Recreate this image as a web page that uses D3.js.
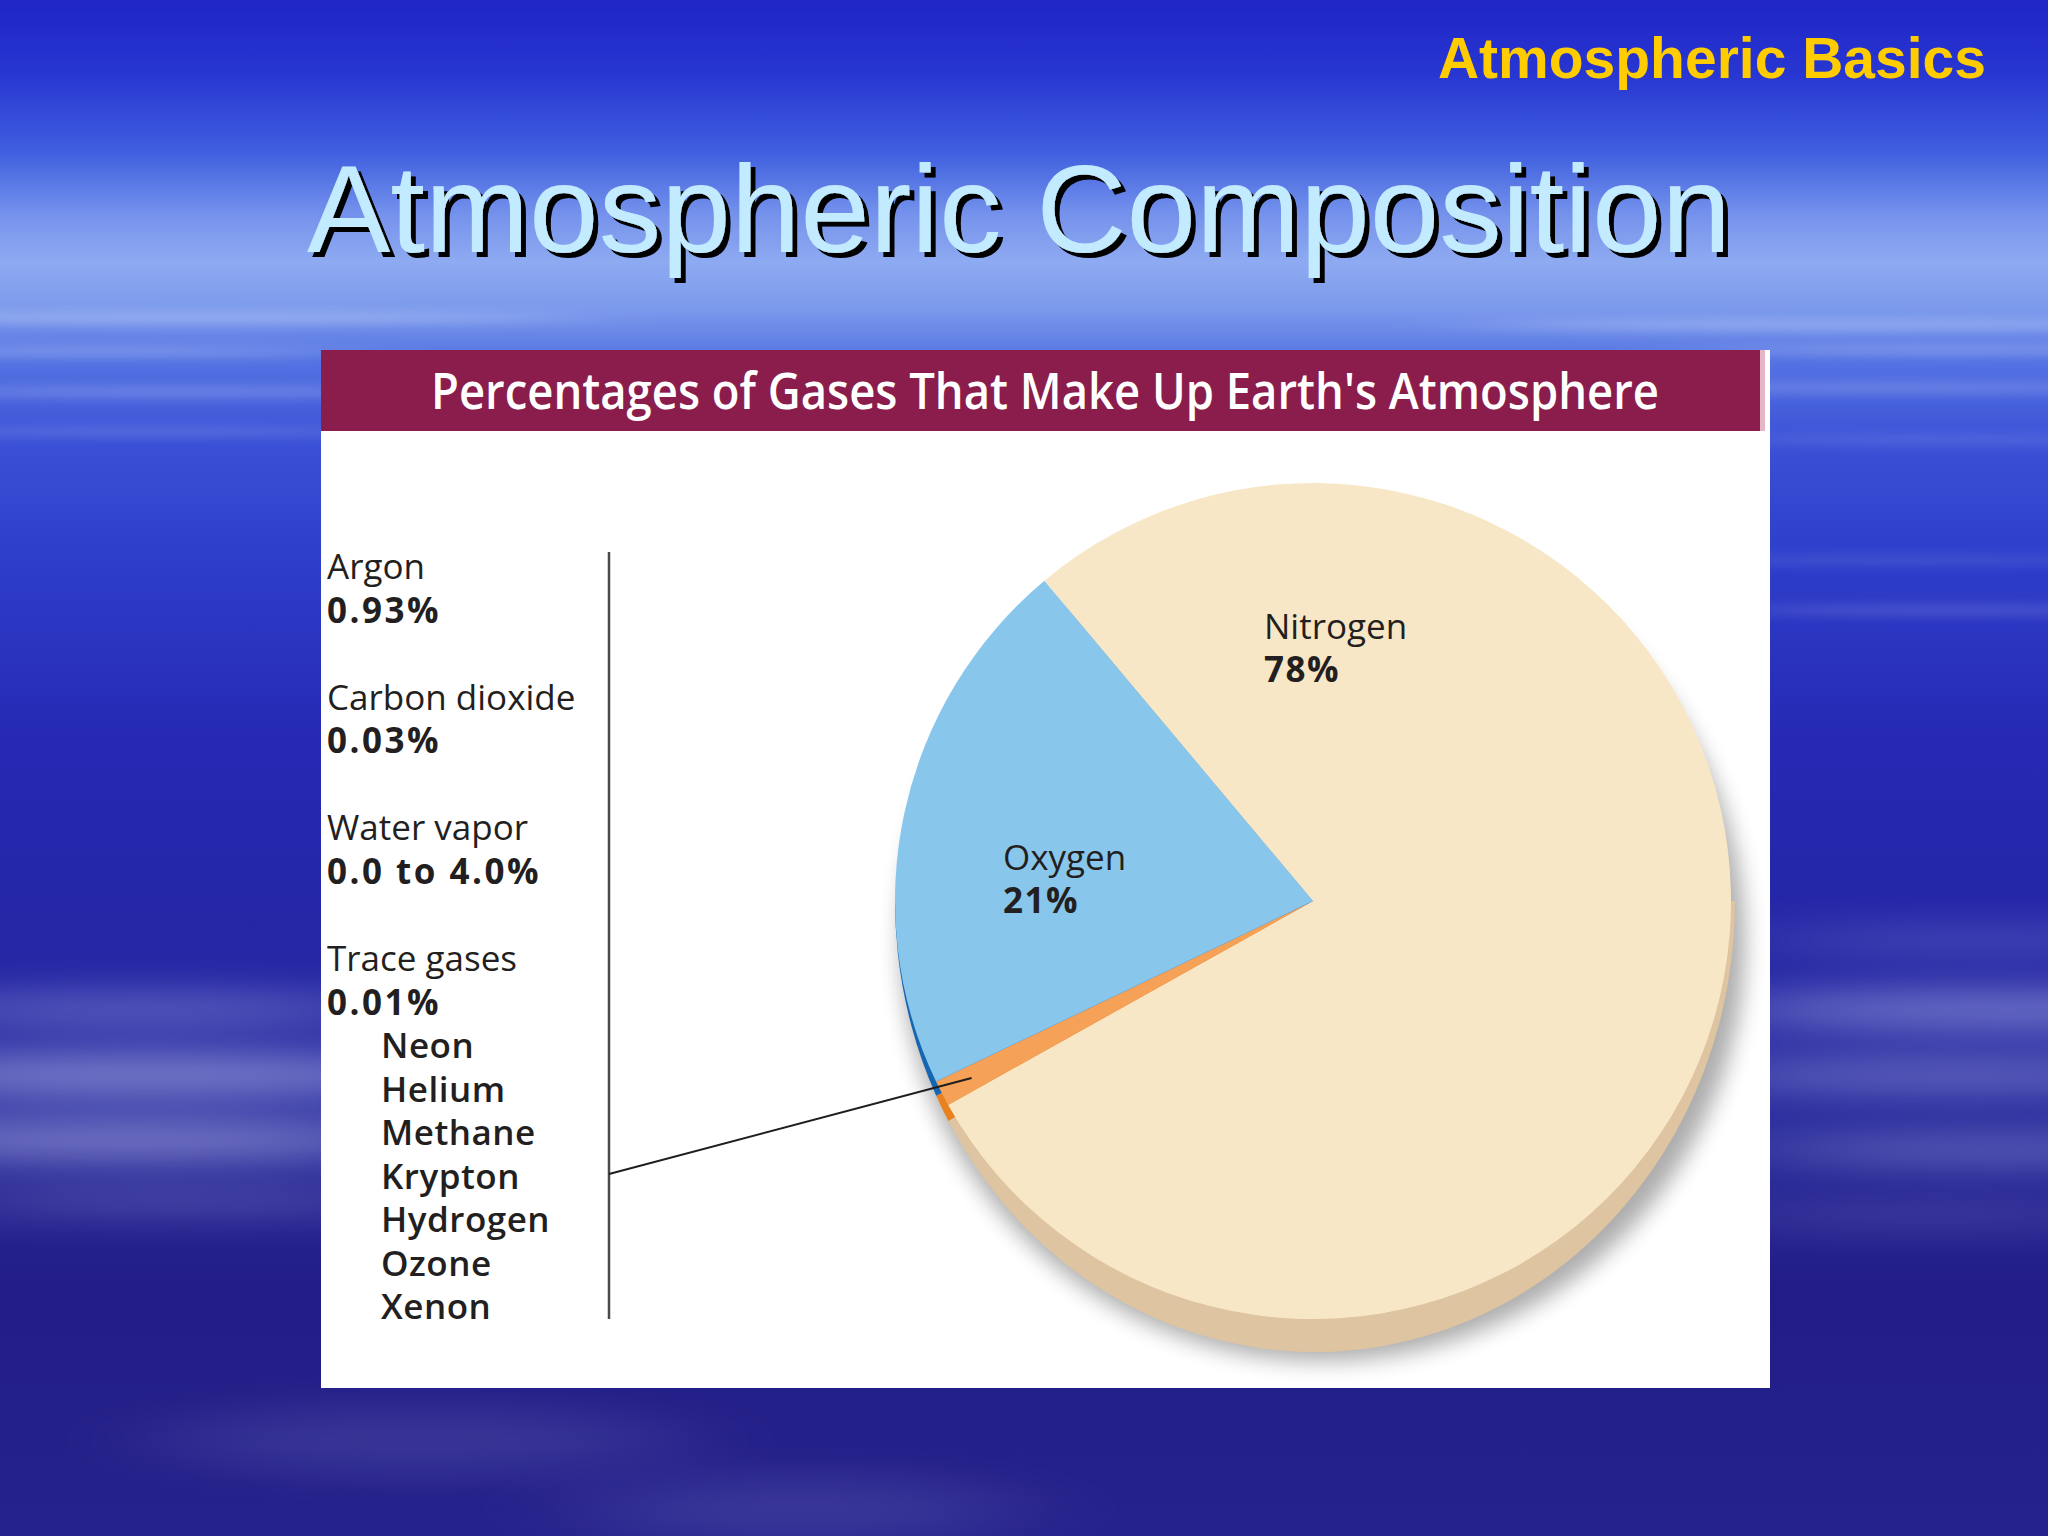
<!DOCTYPE html>
<html>
<head>
<meta charset="utf-8">
<script src="https://cdn.jsdelivr.net/npm/d3@7"></script>
<style>
  html, body { margin: 0; padding: 0; background: #1e2390; }
  svg { display: block; }
</style>
</head>
<body>
<div id="chart"></div>
<script>
// ---- data ----
const SLIDE_TAG = "Atmospheric Basics";
const SLIDE_TITLE = "Atmospheric Composition";
const CHART_TITLE = "Percentages of Gases That Make Up Earth's Atmosphere";

const PIE_NAMES = ["Nitrogen", "Other gases", "Oxygen"];
const PIE_VALUES = [78, 1, 21];
const PIE_VALUE_LABELS = ["78%", "", "21%"];

const MINOR_NAMES = ["Argon", "Carbon dioxide", "Water vapor", "Trace gases"];
const MINOR_VALUES = ["0.93%", "0.03%", "0.0 to 4.0%", "0.01%"];
const TRACE_GASES = ["Neon", "Helium", "Methane", "Krypton", "Hydrogen", "Ozone", "Xenon"];

// ---- layout / style ----
const W = 2048, H = 1536;
const PANEL_X = 321, PANEL_Y = 350, PANEL_W = 1449, PANEL_H = 1038, BAND_H = 81;
const CX = 1313, CY = 901, R = 418, DEPTH = 33;
const FACE_COLORS = ["#f8e7c6", "#f6a158", "#88c6ec"];
const SIDE_COLORS = ["#dec4a0", "#e8811f", "#1565b0"];
const TEXT_COLOR = "#231f20";
const LABEL_FONT = "'Open Sans', 'Noto Sans', sans-serif";
const LEGEND_X = 327, LEGEND_INDENT = 381, LEGEND_Y0 = 579, GROUP_STEP = 130.7, LINE_STEP = 43.5;
const BRACKET_X = 609;

const svg = d3.select("#chart").append("svg")
  .attr("width", W)
  .attr("height", H);

const defs = svg.append("defs");

// background sky
const sky = defs.append("linearGradient")
  .attr("id", "sky").attr("x1", 0).attr("y1", 0).attr("x2", 0).attr("y2", 1);
[[0, "#1f25c6"], [0.05, "#2837d2"], [0.10, "#4060df"], [0.14, "#7593ec"], [0.17, "#8eaaf1"],
 [0.20, "#7c9aec"], [0.235, "#5473e2"], [0.29, "#3a50d6"], [0.36, "#2e3fcb"], [0.48, "#2629b4"],
 [0.60, "#2426a6"], [0.72, "#2a2c9e"], [0.84, "#221d86"], [1, "#25228c"]]
  .forEach(s => sky.append("stop").attr("offset", s[0]).attr("stop-color", s[1]));

defs.append("filter").attr("id", "streak").attr("x", "-50%").attr("y", "-300%")
  .attr("width", "200%").attr("height", "700%")
  .append("feGaussianBlur").attr("stdDeviation", "60 6");

defs.append("filter").attr("id", "cloud").attr("x", "-50%").attr("y", "-150%")
  .attr("width", "200%").attr("height", "400%")
  .append("feGaussianBlur").attr("stdDeviation", "70 18");

defs.append("filter").attr("id", "pieShadow").attr("x", "-20%").attr("y", "-20%")
  .attr("width", "140%").attr("height", "140%")
  .append("feGaussianBlur").attr("stdDeviation", 11);

const drop = defs.append("filter").attr("id", "textShadow")
  .attr("x", "-5%").attr("y", "-20%").attr("width", "110%").attr("height", "140%");
drop.append("feOffset").attr("in", "SourceAlpha").attr("dx", 5).attr("dy", 5).attr("result", "off");
drop.append("feFlood").attr("flood-color", "#000");
drop.append("feComposite").attr("in2", "off").attr("operator", "in").attr("result", "shadow");
const merge = drop.append("feMerge");
merge.append("feMergeNode").attr("in", "shadow");
merge.append("feMergeNode").attr("in", "SourceGraphic");

svg.append("rect").attr("width", W).attr("height", H).attr("fill", "url(#sky)");

// thin streaks near the horizon, broad soft cloud bands lower down
const bg = svg.append("g");
const streaks = [
  [200, 318, 380, 5, 0.35], [1850, 325, 380, 5, 0.35], [100, 352, 260, 4, 0.3],
  [1950, 350, 260, 4, 0.3], [180, 392, 300, 4, 0.3], [1900, 388, 280, 4, 0.28],
  [150, 432, 260, 3, 0.25], [1950, 440, 240, 3, 0.22], [1900, 560, 260, 4, 0.15],
  [1950, 610, 240, 5, 0.18]
];
bg.selectAll(".streak").data(streaks).join("ellipse")
  .attr("class", "streak")
  .attr("cx", d => d[0]).attr("cy", d => d[1])
  .attr("rx", d => d[2]).attr("ry", d => d[3])
  .attr("fill", "#e8f0ff").attr("opacity", d => d[4])
  .attr("filter", "url(#streak)");

const clouds = [
  [140, 1010, 260, 14, 0.35], [150, 1075, 320, 22, 0.45], [130, 1140, 300, 20, 0.45],
  [180, 1200, 260, 12, 0.25], [1980, 940, 240, 12, 0.22], [2010, 1010, 300, 20, 0.4],
  [1960, 1075, 280, 16, 0.35], [2000, 1150, 260, 16, 0.3], [1930, 1215, 230, 10, 0.2],
  [420, 1440, 260, 35, 0.1], [800, 1510, 220, 35, 0.1]
];
bg.selectAll(".cloud").data(clouds).join("ellipse")
  .attr("class", "cloud")
  .attr("cx", d => d[0]).attr("cy", d => d[1])
  .attr("rx", d => d[2]).attr("ry", d => d[3])
  .attr("fill", "#dfe6ff").attr("opacity", d => d[4])
  .attr("filter", "url(#cloud)");

// ---- slide titles ----
svg.append("text")
  .attr("x", 1986).attr("y", 78)
  .attr("text-anchor", "end")
  .style("font-family", "'Liberation Sans', Arial, sans-serif")
  .style("font-weight", "bold")
  .style("font-size", "57px")
  .style("fill", "#ffcc00")
  .text(SLIDE_TAG);

svg.append("text")
  .attr("x", 1019).attr("y", 252)
  .attr("text-anchor", "middle")
  .attr("filter", "url(#textShadow)")
  .style("font-family", "'Liberation Sans', Arial, sans-serif")
  .style("font-size", "125px")
  .style("fill", "#c2ebff")
  .text(SLIDE_TITLE);

// ---- chart panel ----
svg.append("rect")
  .attr("x", PANEL_X).attr("y", PANEL_Y)
  .attr("width", PANEL_W).attr("height", PANEL_H)
  .attr("fill", "#ffffff");
svg.append("rect")
  .attr("x", PANEL_X + PANEL_W - 10).attr("y", PANEL_Y)
  .attr("width", 5).attr("height", BAND_H)
  .attr("fill", "#e7b6c6");
svg.append("rect")
  .attr("x", PANEL_X).attr("y", PANEL_Y)
  .attr("width", PANEL_W - 10).attr("height", BAND_H)
  .attr("fill", "#8b1d4c");
svg.append("text")
  .attr("x", 1045).attr("y", 409)
  .attr("text-anchor", "middle")
  .attr("textLength", 1228)
  .attr("lengthAdjust", "spacingAndGlyphs")
  .style("font-family", LABEL_FONT)
  .style("font-weight", 600)
  .style("font-size", "50px")
  .style("fill", "#ffffff")
  .text(CHART_TITLE);

// ---- pie ----
const pieData = PIE_NAMES.map((name, i) => ({ name: name, value: PIE_VALUES[i], label: PIE_VALUE_LABELS[i], i: i }));
const pie = d3.pie()
  .sort(null)
  .value(d => d.value)
  .startAngle(-40 * Math.PI / 180)
  .endAngle(320 * Math.PI / 180);
const arcs = pie(pieData);
const arc = d3.arc().innerRadius(0).outerRadius(R);

// drop shadow
svg.append("ellipse")
  .attr("cx", CX + 10).attr("cy", CY + 40)
  .attr("rx", R + 4).attr("ry", R + 2)
  .attr("fill", "#000").attr("opacity", 0.32)
  .attr("filter", "url(#pieShadow)");

// extruded side (only the lower half shows)
defs.append("clipPath").attr("id", "lowerHalf")
  .append("rect")
  .attr("x", CX - R - 50).attr("y", CY)
  .attr("width", 2 * R + 100).attr("height", R + DEPTH + 50);

svg.append("g")
  .attr("clip-path", "url(#lowerHalf)")
  .append("g")
  .attr("transform", `translate(${CX + 2},${CY}) scale(${(R + 2) / R},${(R + DEPTH) / R})`)
  .selectAll("path")
  .data(arcs)
  .join("path")
  .attr("d", arc)
  .attr("fill", d => SIDE_COLORS[d.data.i]);

// top face
svg.append("g")
  .attr("transform", `translate(${CX},${CY})`)
  .selectAll("path")
  .data(arcs)
  .join("path")
  .attr("d", arc)
  .attr("fill", d => FACE_COLORS[d.data.i]);

// slice labels
const LABEL_POS = { "Nitrogen": [1264, 639], "Oxygen": [1003, 870] };
const labelG = svg.append("g")
  .style("font-family", LABEL_FONT)
  .style("font-size", "35px")
  .style("fill", TEXT_COLOR);
arcs.filter(d => LABEL_POS[d.data.name]).forEach(d => {
  const p = LABEL_POS[d.data.name];
  const t = labelG.append("text").attr("x", p[0]).attr("y", p[1]);
  t.append("tspan").text(d.data.name);
  t.append("tspan").attr("x", p[0]).attr("dy", 43)
    .style("font-weight", "bold").style("letter-spacing", "1.5px")
    .text(d.data.label);
});

// ---- minor gases list ----
const legend = svg.append("g")
  .style("font-family", LABEL_FONT)
  .style("font-size", "35px")
  .style("fill", TEXT_COLOR);

MINOR_NAMES.forEach((name, i) => {
  const y = LEGEND_Y0 + i * GROUP_STEP;
  legend.append("text").attr("x", LEGEND_X).attr("y", y).text(name);
  legend.append("text").attr("x", LEGEND_X).attr("y", y + LINE_STEP)
    .style("font-weight", "bold").style("letter-spacing", "2.5px")
    .text(MINOR_VALUES[i]);
});
const traceY0 = LEGEND_Y0 + (MINOR_NAMES.length - 1) * GROUP_STEP + 2 * LINE_STEP;
TRACE_GASES.forEach((name, i) => {
  legend.append("text")
    .attr("x", LEGEND_INDENT).attr("y", traceY0 + i * LINE_STEP)
    .style("font-weight", 600).style("letter-spacing", "0.5px")
    .text(name);
});

// bracket line and leader to the small slice
svg.append("line")
  .attr("x1", BRACKET_X).attr("x2", BRACKET_X)
  .attr("y1", LEGEND_Y0 - 27).attr("y2", traceY0 + (TRACE_GASES.length - 1) * LINE_STEP)
  .attr("stroke", "#4a4a4a").attr("stroke-width", 2.5);

const other = arcs.find(d => d.data.name === "Other gases");
const tip = d3.arc().innerRadius(R * 0.92).outerRadius(R * 0.92).centroid(other);
svg.append("line")
  .attr("x1", BRACKET_X).attr("y1", 1174)
  .attr("x2", CX + tip[0]).attr("y2", CY + tip[1])
  .attr("stroke", "#1e1e1e").attr("stroke-width", 2);
</script>
</body>
</html>
